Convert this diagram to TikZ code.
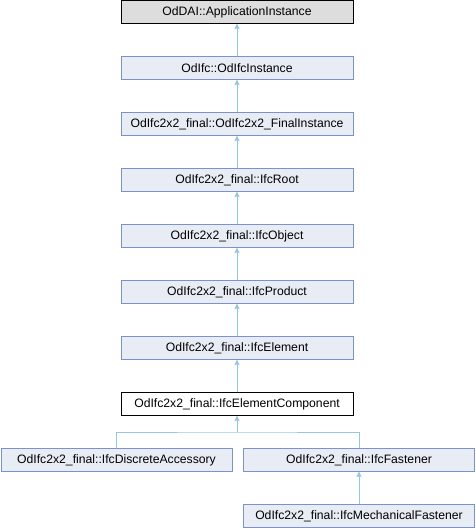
\documentclass[tikz,border=0pt]{standalone}
\usepackage{fontspec}
\setmainfont{Liberation Sans}
\usetikzlibrary{arrows.meta}
\definecolor{edgec}{RGB}{150,198,228}
\definecolor{boxfill}{RGB}{232,236,244}
\definecolor{boxline}{RGB}{122,148,200}
\definecolor{topfill}{RGB}{221,221,221}
\tikzset{
  cls/.style={draw=boxline, fill=boxfill, line width=0.9pt, minimum height=22.5pt, inner sep=0pt, font=\fontsize{12.2}{14}\selectfont, anchor=center},
  topcls/.style={cls, draw=black, fill=topfill},
  curcls/.style={cls, draw=black, fill=white},
  inh/.style={draw=edgec, line width=0.9pt, -{Triangle[width=5pt,length=5pt,fill=edgec]}}
}
\begin{document}
\begin{tikzpicture}[x=1pt,y=-1pt]
\useasboundingbox (0,0) rectangle (476,528);
\node[topcls, minimum width=232pt] (a) at (237,12) {OdDAI::ApplicationInstance};
\node[cls, minimum width=232pt] (b) at (237,68) {OdIfc::OdIfcInstance};
\node[cls, minimum width=232pt] (c) at (237,124) {OdIfc2x2\_final::OdIfc2x2\_FinalInstance};
\node[cls, minimum width=232pt] (d) at (237,180) {OdIfc2x2\_final::IfcRoot};
\node[cls, minimum width=232pt] (e) at (237,236) {OdIfc2x2\_final::IfcObject};
\node[cls, minimum width=232pt] (f) at (237,292) {OdIfc2x2\_final::IfcProduct};
\node[cls, minimum width=232pt] (g) at (237,348) {OdIfc2x2\_final::IfcElement};
\node[curcls, minimum width=232pt] (h) at (237,404) {OdIfc2x2\_final::IfcElementComponent};
\node[cls, minimum width=231pt] (i) at (116.5,460) {OdIfc2x2\_final::IfcDiscreteAccessory};
\node[cls, minimum width=231pt] (j) at (359,460) {OdIfc2x2\_final::IfcFastener};
\node[cls, minimum width=231pt] (k) at (359,516) {OdIfc2x2\_final::IfcMechanicalFastener};
\coordinate (br) at (237,432);
\draw[inh] (b) -- (a);
\draw[inh] (c) -- (b);
\draw[inh] (d) -- (c);
\draw[inh] (e) -- (d);
\draw[inh] (f) -- (e);
\draw[inh] (g) -- (f);
\draw[inh] (h) -- (g);
\draw[inh] (br) -- (h);
\draw[draw=edgec, line width=0.9pt] (i.north) |- (br) -| (j.north);
\draw[inh] (k) -- (j);
\end{tikzpicture}
\end{document}
